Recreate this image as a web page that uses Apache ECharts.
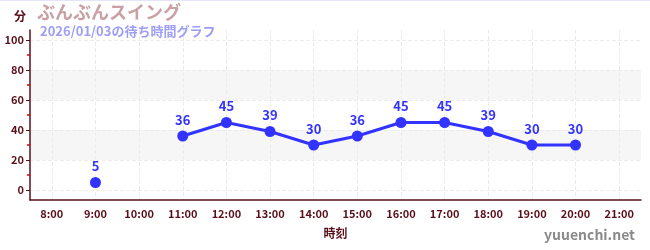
<!DOCTYPE html>
<html><head><meta charset="utf-8">
<script src="https://cdn.jsdelivr.net/npm/echarts@6/dist/echarts.min.js"></script>
<style>
html,body{margin:0;padding:0;background:#fff;}
#c{position:absolute;left:0;top:0;width:650px;height:250px;}
#topline{position:absolute;left:0;top:0;width:650px;height:1px;background:#e4e4fa;z-index:5;}
</style></head>
<body>
<div id="c"></div><div id="topline"></div>
<script>
const categories = ['8:00','9:00','10:00','11:00','12:00','13:00','14:00','15:00','16:00','17:00','18:00','19:00','20:00','21:00'];
const waitMinutes = [null,5,null,36,45,39,30,36,45,45,39,30,30,null];
const yMajorTicks = [0,20,40,60,80,100];
const yMinorTicks = [10,30,50,70,90];
const titleText = 'ぶんぶんスイング';
const subtitleText = '2026/01/03の待ち時間グラフ';
const yName = '分';
const xName = '時刻';
const credit = 'yuuenchi.net';

const FONT = '"Noto Sans CJK JP","Noto Sans",sans-serif';
const maroon = '#5a0f1a';
const catIndex = categories.map((c, i) => i);
const chart = echarts.init(document.getElementById('c'));
chart.setOption({
  animation:false,
  textStyle:{fontFamily:FONT},
  title:[
    {text:titleText,left:37,top:3,padding:0,textStyle:{fontFamily:FONT,fontSize:18,fontWeight:'bold',color:'#c9a0a4'}},
    {text:subtitleText,left:40,top:25,padding:0,textStyle:{fontFamily:FONT,fontSize:13,fontWeight:'bold',color:'#9e9ef6'}},
    {text:credit,right:15,bottom:8,padding:0,textStyle:{fontFamily:FONT,fontSize:14,fontWeight:'bold',color:'#8a8a8a'}}
  ],
  grid:{left:30,right:9,top:30,bottom:50,containLabel:false},
  xAxis:[{
    type:'category',data:categories,boundaryGap:true,
    name:xName,nameLocation:'middle',nameGap:27,
    nameTextStyle:{fontFamily:FONT,fontSize:12,fontWeight:'bold',color:maroon},
    axisLine:{onZero:false,lineStyle:{color:maroon,width:1.5}},
    axisTick:{alignWithLabel:true,length:5,lineStyle:{color:'#999'}},
    axisLabel:{fontFamily:FONT,fontSize:11,fontWeight:'bold',color:maroon,margin:8},
    splitLine:{show:false}
  },{
    type:'value',min:-0.5,max:categories.length-0.5,position:'bottom',
    axisLine:{show:false,onZero:false},
    axisTick:{show:false,customValues:catIndex},
    axisLabel:{show:false,customValues:catIndex},
    splitLine:{show:true,lineStyle:{color:'#ececec',type:'dashed'}}
  }],
  yAxis:[{
    type:'value',min:-20/3,max:320/3,
    name:yName,nameLocation:'end',nameGap:8,
    nameTextStyle:{fontFamily:FONT,fontSize:12,fontWeight:'bold',color:maroon,align:'right',padding:[0,4,0,0]},
    axisLine:{show:true,onZero:false,lineStyle:{color:maroon,width:1.5}},
    axisTick:{show:true,length:4,lineStyle:{color:maroon},customValues:yMajorTicks},
    axisLabel:{fontFamily:FONT,fontSize:11,fontWeight:'bold',color:maroon,margin:6,hideOverlap:false,customValues:yMajorTicks},
    splitLine:{show:true,lineStyle:{color:'#ececec',type:'dashed'}},
    splitArea:{show:true,areaStyle:{color:['rgba(255,255,255,0)','#f6f6f6']}}
  },{
    type:'value',min:-20/3,max:320/3,position:'left',offset:0,
    axisLine:{show:true,onZero:false,lineStyle:{color:'rgba(0,0,0,0)'}},
    axisTick:{show:true,inside:false,length:3,lineStyle:{color:'#e00000',width:1.5},customValues:yMinorTicks},
    axisLabel:{show:false,customValues:yMinorTicks},
    splitLine:{show:false},
    splitArea:{show:false}
  }],
  series:[{
    type:'line',data:waitMinutes,connectNulls:false,xAxisIndex:0,yAxisIndex:0,
    symbol:'circle',symbolSize:11,
    lineStyle:{color:'#3333ff',width:3},
    itemStyle:{color:'#3333ff'},
    label:{show:true,position:'top',distance:4,fontFamily:FONT,fontSize:13,fontWeight:'bold',color:'#3333ff'}
  }]
});
</script>
</body></html>
